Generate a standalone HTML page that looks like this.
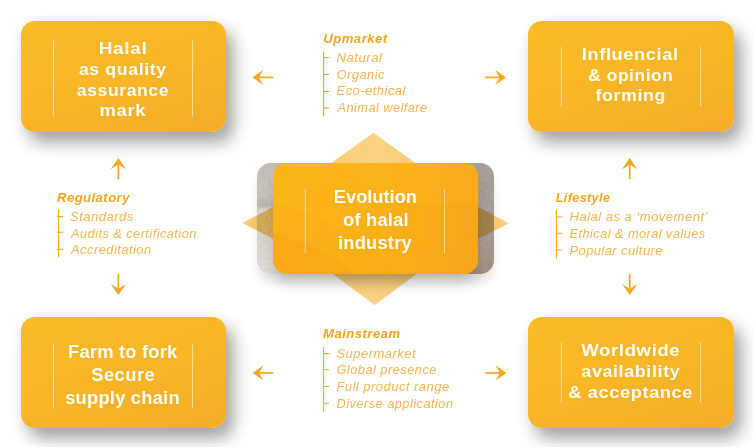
<!DOCTYPE html>
<html><head><meta charset="utf-8"><title>Evolution of halal industry</title>
<style>
html,body{margin:0;padding:0;background:#fff}
#stage{position:relative;width:754px;height:447px;overflow:hidden;background:#fff;font-family:"Liberation Sans",sans-serif}
.box{position:absolute;width:205.6px;height:111px;border-radius:14px;
 background:linear-gradient(160deg,#F9BB26 0%,#F8B727 45%,#F5AC29 100%);
 box-shadow:7px 10px 17px rgba(0,0,0,.38)}
#gray{position:absolute;left:257.4px;top:162.7px;width:236.2px;height:111.5px;border-radius:14px;overflow:hidden;box-shadow:0 9px 12px -2px rgba(0,0,0,.13);
 background:linear-gradient(90deg,#DCD9D1 0%,#DEDBD4 7%,#B5AEA6 50%,#ABA49F 92%,#A9A29D 100%)}
#gray i{position:absolute;top:0;bottom:0;width:40px;display:block}
#gray .gl{left:0;background:linear-gradient(180deg,rgba(110,100,90,.20) 0%,rgba(110,100,90,.13) 28%,rgba(110,100,90,.27) 38%,rgba(110,100,90,0) 42%,rgba(255,255,255,0) 65%,rgba(255,255,255,.22) 100%)}
#gray .gr{right:0;background:linear-gradient(180deg,rgba(150,110,70,0) 0%,rgba(150,110,70,0) 60%,rgba(150,105,60,.28) 100%)}
#cbox{position:absolute;left:273.1px;top:163.3px;width:205.2px;height:110.8px;border-radius:14px;
 background:linear-gradient(100deg,#FBB519 0%,#FAB117 50%,#F7A51A 100%);
 box-shadow:0 11px 15px -3px rgba(0,0,0,.20)}
svg{position:absolute;left:0;top:0}
text{font-family:"Liberation Sans",sans-serif}
.t{font-weight:bold;fill:#FFFDF6}
.h{font-weight:bold;font-style:italic;fill:#F7A422}
.i{font-style:italic;fill:#F8B44E}
</style></head><body>
<div id="stage">
<div class="box" style="left:20.6px;top:21px"></div>
<div class="box" style="left:528.3px;top:21px"></div>
<div class="box" style="left:20.6px;top:316.6px"></div>
<div class="box" style="left:528.3px;top:316.6px"></div>
<div id="gray"><i class="gl"></i><i class="gr"></i><svg width="237" height="112" style="opacity:.35;mix-blend-mode:multiply"><filter id="nz" x="0" y="0" width="100%" height="100%"><feTurbulence type="fractalNoise" baseFrequency=".35" numOctaves="3" seed="4"/><feColorMatrix type="matrix" values="0 0 0 0 .55  0 0 0 0 .52  0 0 0 0 .48  .9 .9 0 0 -.55"/></filter><rect width="237" height="112" filter="url(#nz)"/></svg></div>
<svg width="754" height="447" viewBox="0 0 754 447">
<defs><linearGradient id="dg" x1="0" y1="0" x2="1" y2="0"><stop offset="0" stop-color="#F9C86E"/><stop offset=".5" stop-color="#FAD283"/><stop offset="1" stop-color="#F9C86E"/></linearGradient><linearGradient id="dg2" x1="0" y1="0" x2="1" y2="0"><stop offset="0" stop-color="#FACB76"/><stop offset="1" stop-color="#FCD07A"/></linearGradient></defs>
<polygon points="373.4,132.8 290,192.7 290,242.3 374.7,305 459.4,242.3 456.8,192.7" fill="url(#dg)" style="mix-blend-mode:multiply"/>
<polygon points="242.4,223 333.7,175 417,175 509,223.3 417,270 334,270" fill="url(#dg2)" style="mix-blend-mode:multiply"/>
</svg>
<div id="cbox"><svg width="206" height="111" viewBox="0 0 206 111" style="border-radius:14px">
<path d="M0 111V70C30 78 62 92 82 111Z" fill="#F49C14" opacity=".28"/>
<path d="M0 111V40C50 52 100 80 128 111Z" fill="#F6A516" opacity=".22"/>
<path d="M60 0C90 30 150 50 206 40V0Z" fill="#FCC02A" opacity=".16"/>
</svg></div>
<svg width="754" height="447" viewBox="0 0 754 447">
<path d="M53.4 40.3V116.7" stroke="#FCDFA6" stroke-width="1" opacity=".9" fill="none"/><path d="M192.5 40.3V116.7" stroke="#FCDFA6" stroke-width="1" opacity=".9" fill="none"/><path d="M561.4 47V106.5" stroke="#FCDFA6" stroke-width="1" opacity=".9" fill="none"/><path d="M700.6 47V106.5" stroke="#FCDFA6" stroke-width="1" opacity=".9" fill="none"/><path d="M53.4 343.9V407.8" stroke="#FCDFA6" stroke-width="1" opacity=".9" fill="none"/><path d="M192.5 343.9V407.8" stroke="#FCDFA6" stroke-width="1" opacity=".9" fill="none"/><path d="M561.4 342.5V402.8" stroke="#FCDFA6" stroke-width="1" opacity=".9" fill="none"/><path d="M700.6 342.5V402.8" stroke="#FCDFA6" stroke-width="1" opacity=".9" fill="none"/><path d="M305.2 189V253.3" stroke="#FCDFA6" stroke-width="1" opacity=".9" fill="none"/><path d="M444.4 189V253.3" stroke="#FCDFA6" stroke-width="1" opacity=".9" fill="none"/>
<path d="M258.7 77.4H273.3" stroke="#F5A71F" stroke-width="1.7" fill="none"/><path d="M252.4 77.4L263.3 69.7L258.7 77.4L263.3 85.1Z" fill="#F5A71F"/><path d="M499.7 77.4H485" stroke="#F5A71F" stroke-width="1.7" fill="none"/><path d="M506 77.4L495.1 69.7L499.7 77.4L495.1 85.1Z" fill="#F5A71F"/><path d="M258.9 372.9H273.3" stroke="#F5A71F" stroke-width="1.7" fill="none"/><path d="M252.6 372.9L263.5 365.2L258.9 372.9L263.5 380.6Z" fill="#F5A71F"/><path d="M500.1 372.9H485" stroke="#F5A71F" stroke-width="1.7" fill="none"/><path d="M506.4 372.9L495.5 365.2L500.1 372.9L495.5 380.6Z" fill="#F5A71F"/><path d="M118.4 164.4V179.2" stroke="#F5A71F" stroke-width="1.7" fill="none"/><path d="M118.4 158.1L110.7 169.2L118.4 164.4L126.1 169.2Z" fill="#F5A71F"/><path d="M118.4 288.7V274.1" stroke="#F5A71F" stroke-width="1.7" fill="none"/><path d="M118.4 295L110.7 283.9L118.4 288.7L126.1 283.9Z" fill="#F5A71F"/><path d="M629.7 164.4V179.2" stroke="#F5A71F" stroke-width="1.7" fill="none"/><path d="M629.7 158.1L622.0 169.2L629.7 164.4L637.4 169.2Z" fill="#F5A71F"/><path d="M629.7 288.7V274.1" stroke="#F5A71F" stroke-width="1.7" fill="none"/><path d="M629.7 295L622.0 283.9L629.7 288.7L637.4 283.9Z" fill="#F5A71F"/>
<path d="M323.6 51.5V115.9M323.6 57.5h5.7M323.6 74.5h5.7M323.6 91.5h5.7M323.6 107.8h5.7" stroke="#F6A724" stroke-width="1.15" fill="none"/><path d="M323.5 346.9V411.7M323.5 353.6h5.7M323.5 369.7h5.7M323.5 386.5h5.7M323.5 403.2h5.7" stroke="#F6A724" stroke-width="1.15" fill="none"/><path d="M58.6 209.4V257.6M57.0 216.6h6.199999999999999M57.0 232.2h6.199999999999999M57.0 249.4h6.199999999999999" stroke="#F6A724" stroke-width="1.15" fill="none"/><path d="M556.4 210V258.5M556.4 217.0h5.7M556.4 233.2h5.7M556.4 250.0h5.7" stroke="#F6A724" stroke-width="1.15" fill="none"/>
<text class="t" transform="translate(98.70 53.60) scale(1.0972 1)" font-size="17.3" letter-spacing="0.606">Halal</text>
<text class="t" transform="translate(78.90 74.60) scale(1.0239 1)" font-size="17.3" letter-spacing="0.606">as quality</text>
<text class="t" transform="translate(76.80 95.50) scale(1.0139 1)" font-size="17.3" letter-spacing="0.606">assurance</text>
<text class="t" transform="translate(99.54 116.40) scale(1.0631 1)" font-size="17.3" letter-spacing="0.606">mark</text>
<text class="t" transform="translate(581.75 60.20) scale(1.0522 1)" font-size="17.3" letter-spacing="0.606">Influencial</text>
<text class="t" transform="translate(588.20 80.70) scale(1.0018 1)" font-size="17.3" letter-spacing="0.606">&amp; opinion</text>
<text class="t" transform="translate(595.40 100.80) scale(1.0298 1)" font-size="17.3" letter-spacing="0.606">forming</text>
<text class="t" transform="translate(68.00 358.40) scale(1.0000 1)" font-size="18.3" letter-spacing="0.229">Farm to fork</text>
<text class="t" transform="translate(91.20 381.30) scale(1.0000 1)" font-size="18.3" letter-spacing="0.518">Secure</text>
<text class="t" transform="translate(65.20 404.00) scale(1.0000 1)" font-size="18.3" letter-spacing="0.239">supply chain</text>
<text class="t" transform="translate(581.30 356.10) scale(1.0696 1)" font-size="17.3" letter-spacing="0.606">Worldwide</text>
<text class="t" transform="translate(581.30 377.00) scale(1.0344 1)" font-size="17.3" letter-spacing="0.606">availability</text>
<text class="t" transform="translate(568.30 397.70) scale(1.0509 1)" font-size="17.3" letter-spacing="0.606">&amp; acceptance</text>
<text class="t" transform="translate(333.80 203.00) scale(1.0000 1)" font-size="18.3" letter-spacing="-0.013">Evolution</text>
<text class="t" transform="translate(343.00 225.70) scale(1.0000 1)" font-size="18.3" letter-spacing="0.227">of halal</text>
<text class="t" transform="translate(338.00 248.90) scale(1.0000 1)" font-size="18.3" letter-spacing="0.222">industry</text>
<text class="h" transform="translate(323.20 43.00) scale(1.0301 1)" font-size="12.8" letter-spacing="0.448">Upmarket</text>
<text class="h" transform="translate(323.00 337.50) scale(1.0506 1)" font-size="12.5" letter-spacing="0.438">Mainstream</text>
<text class="h" transform="translate(57.00 201.60) scale(1.0473 1)" font-size="12.5" letter-spacing="0.438">Regulatory</text>
<text class="h" transform="translate(555.70 201.70) scale(1.0000 1)" font-size="12.5" letter-spacing="0.430">Lifestyle</text>
<text class="i" transform="translate(336.50 61.50) scale(1.0602 1)" font-size="12.5" letter-spacing="0.438">Natural</text>
<text class="i" transform="translate(336.50 78.50) scale(1.0351 1)" font-size="12.5" letter-spacing="0.438">Organic</text>
<text class="i" transform="translate(336.50 95.10) scale(1.0425 1)" font-size="12.5" letter-spacing="0.438">Eco-ethical</text>
<text class="i" transform="translate(337.52 111.70) scale(1.0224 1)" font-size="12.5" letter-spacing="0.438">Animal welfare</text>
<text class="i" transform="translate(336.40 357.60) scale(1.0437 1)" font-size="12.5" letter-spacing="0.438">Supermarket</text>
<text class="i" transform="translate(336.40 373.70) scale(1.0309 1)" font-size="12.5" letter-spacing="0.438">Global presence</text>
<text class="i" transform="translate(336.40 390.50) scale(1.0431 1)" font-size="12.5" letter-spacing="0.438">Full product range</text>
<text class="i" transform="translate(336.40 407.60) scale(1.0288 1)" font-size="12.5" letter-spacing="0.438">Diverse application</text>
<text class="i" transform="translate(70.00 221.10) scale(1.0493 1)" font-size="12.5" letter-spacing="0.438">Standards</text>
<text class="i" transform="translate(71.02 238.10) scale(1.0245 1)" font-size="12.5" letter-spacing="0.438">Audits &amp; certification</text>
<text class="i" transform="translate(71.03 253.80) scale(1.0349 1)" font-size="12.5" letter-spacing="0.438">Accreditation</text>
<text class="i" transform="translate(569.60 220.90) scale(1.0474 1)" font-size="12.5" letter-spacing="0.438">Halal as a ‘movement’</text>
<text class="i" transform="translate(569.60 237.50) scale(1.0211 1)" font-size="12.5" letter-spacing="0.438">Ethical &amp; moral values</text>
<text class="i" transform="translate(569.60 254.80) scale(1.0294 1)" font-size="12.5" letter-spacing="0.438">Popular culture</text>
</svg>
</div>
</body></html>
